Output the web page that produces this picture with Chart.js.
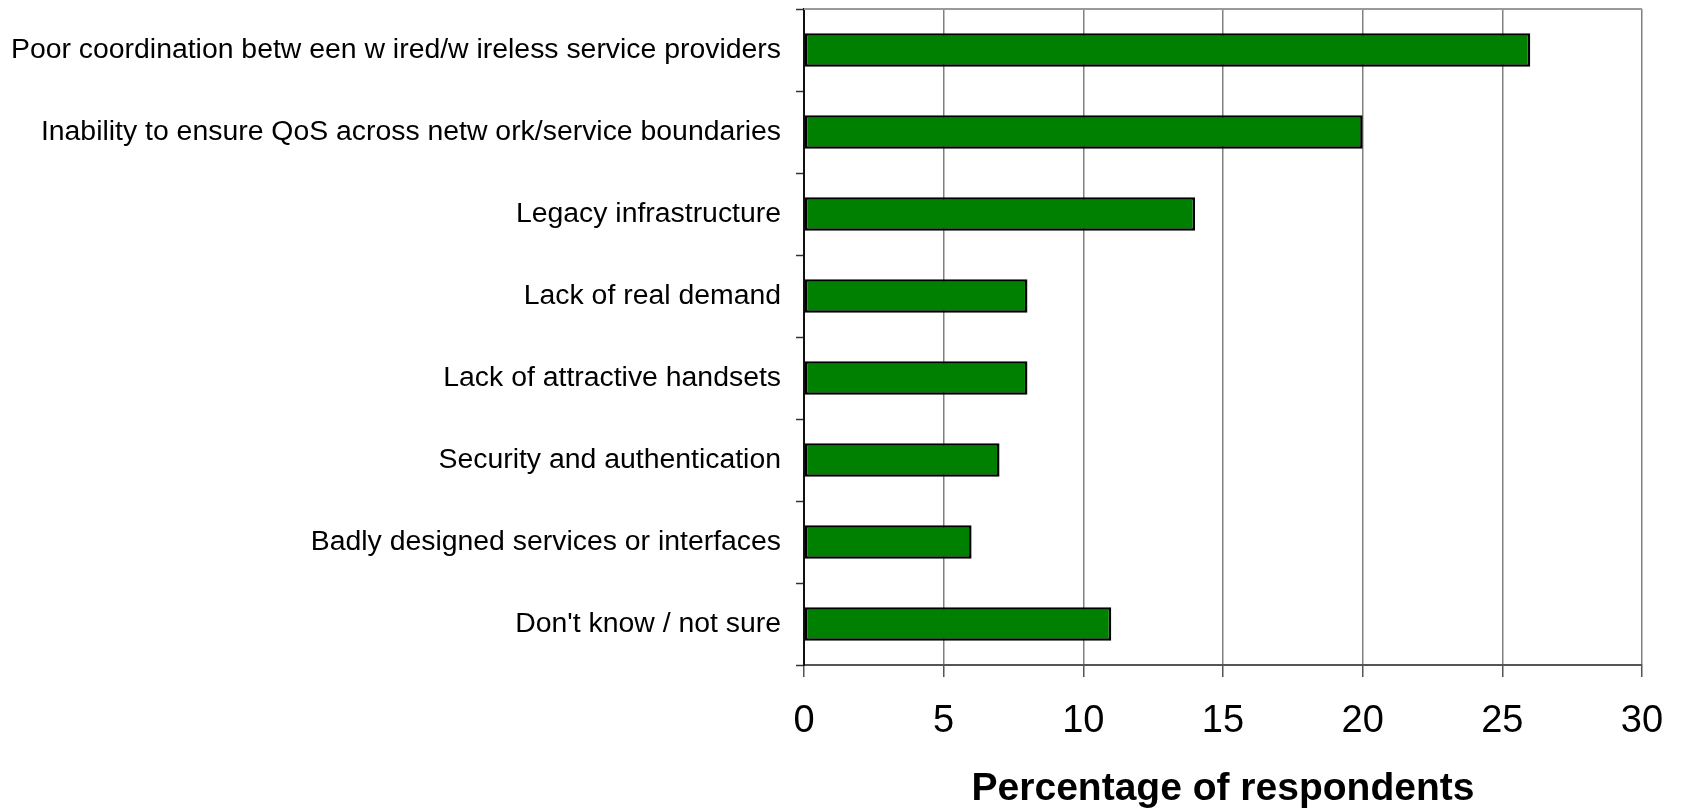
<!DOCTYPE html>
<html>
<head>
<meta charset="utf-8">
<script src="https://cdn.jsdelivr.net/npm/chart.js@4.4.1/dist/chart.umd.min.js"></script>
<style>
  html, body { margin: 0; padding: 0; background: #fff; }
  #wrap { width: 1683px; height: 809px; position: relative; }
</style>
</head>
<body>
<div id="wrap"><canvas id="barChart"></canvas></div>
<script>
const categories = [
    'Poor coordination betw een w ired/w ireless service providers',
    'Inability to ensure QoS across netw ork/service boundaries',
    'Legacy infrastructure',
    'Lack of real demand',
    'Lack of attractive handsets',
    'Security and authentication',
    'Badly designed services or interfaces',
    "Don't know / not sure"
];
const percentValues = [26, 20, 14, 8, 8, 7, 6, 11];
const xTicks = [0, 5, 10, 15, 20, 25, 30];
const xTitle = 'Percentage of respondents';

const FONT = "'Liberation Sans', Arial, Helvetica, sans-serif";

// Rahmen oben (Excel-Stil)
const topBorder = {
    id: 'topBorder',
    afterDraw(chart) {
        const a = chart.chartArea;
        const c = chart.ctx;
        c.save();
        c.strokeStyle = '#9a9a9a';
        c.lineWidth = 2;
        c.beginPath();
        c.moveTo(a.left, a.top);
        c.lineTo(a.right, a.top);
        c.stroke();
        c.restore();
    }
};

const ctx = document.getElementById('barChart').getContext('2d');
const barChart = new Chart(ctx, {
    type: 'bar',
    data: {
        labels: categories,
        datasets: [{
            data: percentValues,
            backgroundColor: '#008000',
            borderColor: '#000000',
            borderWidth: 2.5,
            borderSkipped: false,
            barPercentage: 0.41,
            categoryPercentage: 1.0
        }]
    },
    options: {
        indexAxis: 'y',
        responsive: true,
        maintainAspectRatio: false,
        animation: false,
        devicePixelRatio: 1,
        layout: { padding: { top: 9, right: 41, left: 0, bottom: 0 } },
        plugins: {
            legend: { display: false },
            tooltip: { enabled: false }
        },
        scales: {
            x: {
                min: 0,
                max: 30,
                afterBuildTicks: (scale) => { scale.ticks = xTicks.map(v => ({ value: v })); },
                afterFit: (scale) => {
                    scale.height = 144;
                    scale.paddingLeft = 0;
                    scale.paddingRight = 0;
                },
                grid: {
                    color: '#808080',
                    lineWidth: 1.5,
                    drawTicks: true,
                    tickLength: 12,
                    tickColor: '#555555',
                    tickWidth: 1.5
                },
                border: { display: true, color: '#555555', width: 2 },
                ticks: {
                    color: '#000',
                    padding: 22,
                    maxRotation: 0,
                    font: { family: FONT, size: 38, lineHeight: 1.2 }
                },
                title: {
                    display: true,
                    text: xTitle,
                    color: '#000',
                    padding: { top: 0, bottom: 0 },
                    font: { family: FONT, size: 39, weight: 'bold', lineHeight: 1.0 }
                }
            },
            y: {
                afterFit: (scale) => {
                    scale.width = 804;
                    scale.paddingTop = 0;
                    scale.paddingBottom = 0;
                },
                grid: {
                    offset: true,
                    drawOnChartArea: false,
                    drawTicks: true,
                    tickLength: 8,
                    tickColor: '#333333',
                    tickWidth: 1.5
                },
                border: { display: true, color: '#111111', width: 2 },
                ticks: {
                    color: '#000',
                    padding: 15,
                    autoSkip: false,
                    font: { family: FONT, size: 28.4 }
                }
            }
        }
    },
    plugins: [topBorder]
});
</script>
</body>
</html>
